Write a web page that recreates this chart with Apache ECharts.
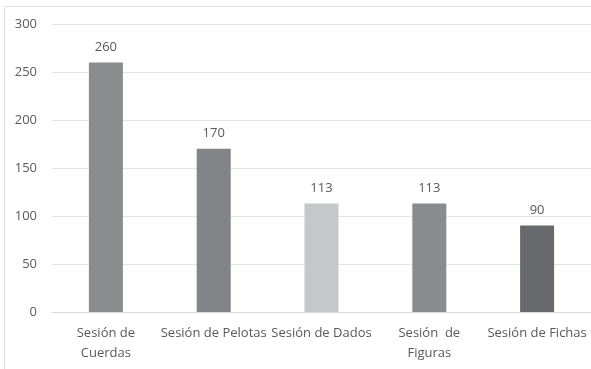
<!DOCTYPE html>
<html><head><meta charset="utf-8">
<script src="https://cdn.jsdelivr.net/npm/echarts@6/dist/echarts.min.js"></script>
<style>html,body{margin:0;padding:0;background:#fff}#c{width:591px;height:369px}</style>
</head><body><div id="c"></div>
<script>
const categories = ["Sesión de\nCuerdas", "Sesión de Pelotas", "Sesión de Dados", "Sesión  de\nFiguras", "Sesión de Fichas"];
const values = [260, 170, 113, 113, 90];
const barColors = ["#8b8c8e", "#838488", "#c6c7c9", "#8a8b8f", "#68696d"];
const yTicks = { min: 0, max: 300, interval: 50 };

const chart = echarts.init(document.getElementById('c'));
chart.setOption({
  animation: false,
  textStyle: { fontFamily: "Open Sans" },
  grid: { left: 52, right: -1, top: 24, bottom: 57 },
  graphic: [{ type: 'rect', shape: { x: 4.5, y: 6.5, width: 600, height: 400 }, style: { fill: 'none', stroke: '#e2e2e2', lineWidth: 1 }, silent: true }],
  xAxis: {
    type: 'category', data: categories,
    axisLine: { lineStyle: { color: '#d9d9d9' } }, axisTick: { show: false },
    axisLabel: { color: '#595959', fontSize: 13, interval: 0, margin: 11, lineHeight: 20 }
  },
  yAxis: {
    type: 'value', min: yTicks.min, max: yTicks.max, interval: yTicks.interval,
    axisLine: { show: false }, axisTick: { show: false },
    splitLine: { lineStyle: { color: '#e3e3e3' } },
    axisLabel: { color: '#595959', fontSize: 13, margin: 15 }
  },
  series: [{
    type: 'bar', barWidth: 34,
    data: values.map((v, i) => ({ value: v, itemStyle: { color: barColors[i] } })),
    label: { show: true, position: 'top', distance: 9, color: '#595959', fontSize: 13 }
  }]
});
</script></body></html>
